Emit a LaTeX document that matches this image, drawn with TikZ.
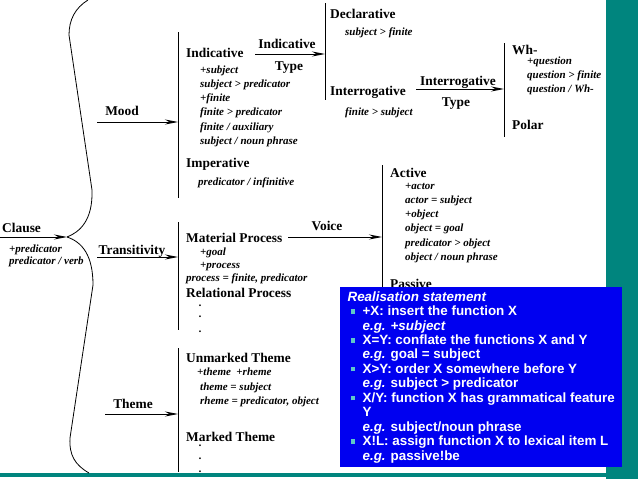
\documentclass[tikz,border=0pt]{standalone}
\usepackage{fontspec}
\setmainfont{Liberation Serif}
\setsansfont{Liberation Sans}
\usepackage{xcolor}
\usetikzlibrary{positioning, arrows.meta, calc}
\definecolor{slideteal}{HTML}{00857E}
\definecolor{boxblue}{HTML}{0000F0}
\definecolor{bulletcyan}{HTML}{5FC8C8}
\newcommand{\rsbul}{\makebox[15pt][l]{\hspace{3pt}\textcolor{bulletcyan}{\rule[2pt]{4.5pt}{4.5pt}}}}
\newcommand{\rsind}{\hspace*{15pt}}

\begin{document}
\begin{tikzpicture}[x=1pt, y=-1pt,
 hd/.style={font=\fontsize{13.4}{15}\selectfont\bfseries, inner sep=0pt, anchor=base west},
 lbl/.style={font=\fontsize{13.4}{15}\selectfont\bfseries, inner sep=0pt, anchor=base},
 ft/.style={font=\fontsize{11}{14.3}\selectfont\bfseries\itshape, inner sep=0pt, anchor=base west, align=left},
 arr/.style={-{Stealth[length=13pt,width=5pt]}, line width=0.8pt},
 bar/.style={line width=0.8pt},
 rbox/.style={fill=boxblue, text=white, inner xsep=7pt, inner ysep=0pt, anchor=north west,
   minimum width=282pt, minimum height=180pt, align=left,
   font=\sffamily\bfseries\fontsize{13.4}{14.45}\selectfont}]
\useasboundingbox (0,0) rectangle (638,479);
\fill[white] (0,0) rectangle (638,479);
\fill[slideteal] (606,0) rectangle (638,479);
\fill[slideteal] (0,473) rectangle (638,477);

% clause and the big brace (multi-line nodes sit on their last line)
\node[hd](clause) at (2,232){Clause};
\node[ft](clausef) at (9,264){+predicator\\[-2.3pt]predicator / verb};
\coordinate (cltail) at (0,237);
\coordinate (tip) at (67,237);
\draw[arr](cltail)--(tip);
\draw[bar] (88,0) .. controls (75,8) and (69,20) .. (69,35) -- (92,190)
  .. controls (93,220) and (80,232) .. (tip);
\draw[bar] (tip) .. controls (82,242) and (93,255) .. (93,285) -- (70,438)
  .. controls (69,455) and (75,465) .. (89,473);

% systems
\coordinate (moodtail) at (97,122);
\coordinate (moodbar) at (178,122);
\node[lbl](mood) at (122,115){Mood};
\draw[arr](moodtail)--(moodbar);
\draw[bar] (178,32) -- (178,198);

\coordinate (trtail) at (97,257);
\coordinate (trbar) at (178,257);
\node[lbl](trans) at (132,254){Transitivity};
\draw[arr](trtail)--(trbar);
\draw[bar] (178,222) -- (178,330);

\coordinate (thtail) at (105,414);
\coordinate (thbar) at (178,414);
\node[lbl](theme) at (133,408){Theme};
\draw[arr](thtail)--(thbar);
\draw[bar] (178,348) -- (178,472);

% mood options
\node[hd](ind) at (186,57){Indicative};
\node[ft](indf) at (200,144.5){+subject\\subject > predicator\\+finite\\finite > predicator\\finite / auxiliary\\subject / noun phrase};
\node[hd](imp) at (186,167){Imperative};
\node[ft](impf) at (198,185){predicator / infinitive};

\coordinate (indtail) at (255,54);
\coordinate (indbar) at (325,54);
\node[lbl](indtype) at (287,48){Indicative};
\node[lbl](indtype2) at (289,70){Type};
\draw[arr](indtail)--(indbar);
\draw[bar] (325,3) -- (325,100);

\node[hd](decl) at (330,19){Declarative};
\node[ft](declf) at (345,35){subject > finite};
\node[hd](inter) at (330,95){Interrogative};
\node[ft](interf) at (345,115){finite > subject};

\coordinate (intail) at (416,89);
\coordinate (inbar) at (504,89);
\node[lbl](intype) at (458,85){Interrogative};
\node[lbl](intype2) at (456,106){Type};
\draw[arr](intail)--(inbar);
\draw[bar] (504,43) -- (504,137);

\node[hd](wh) at (512,54){Wh-};
\node[ft](whf) at (527,92.6){+question\\question > finite\\question / Wh-};
\node[hd](polar) at (512,129){Polar};

% transitivity options
\node[hd](mat) at (186,242){Material Process};
\node[ft](matf) at (200,268){+goal\\[-1.3pt]+process};
\node[ft](matf2) at (186,281){process = finite, predicator};
\node[hd](rel) at (186,297){Relational Process};
\node[ft](reld) at (199,332){.\\[-3.3pt].\\.};

\coordinate (vtail) at (288,237);
\coordinate (vbar) at (382,237);
\node[lbl](voice) at (327,230){Voice};
\draw[arr](vtail)--(vbar);
\draw[bar] (382,165) -- (382,287);

\node[hd](act) at (390,177){Active};
\node[ft](actf) at (405,260.5){+actor\\actor = subject\\+object\\object = goal\\predicator > object\\object / noun phrase};
\node[hd](pass) at (390,288){Passive};

% theme options
\node[hd](unm) at (186,362){Unmarked Theme};
\node[ft](unmf) at (197,375){+\textit{theme} \ +\textit{rheme}};
\node[ft](unmf2) at (200,404.3){theme = subject\\rheme = predicator, object};
\node[hd](mkd) at (186,441){Marked Theme};
\node[ft](mkdd) at (199,472){.\\[-1.3pt].\\[-1.3pt].};

% realisation box
\node[rbox](rs) at (340,287){%
  \textit{Realisation statement}\\
  \rsbul +X: insert the function X\\
  \rsind \textit{e.g. +subject}\\
  \rsbul X=Y: conflate the functions X and Y\\
  \rsind \textit{e.g.} goal = subject\\
  \rsbul X>Y: order X somewhere before Y\\
  \rsind \textit{e.g.} subject > predicator\\
  \rsbul X/Y: function X has grammatical feature\\
  \rsind Y\\
  \rsind \textit{e.g.} subject/noun phrase\\
  \rsbul X!L: assign function X to lexical item L\\
  \rsind \textit{e.g.} passive!be};

\end{tikzpicture}
\end{document}
